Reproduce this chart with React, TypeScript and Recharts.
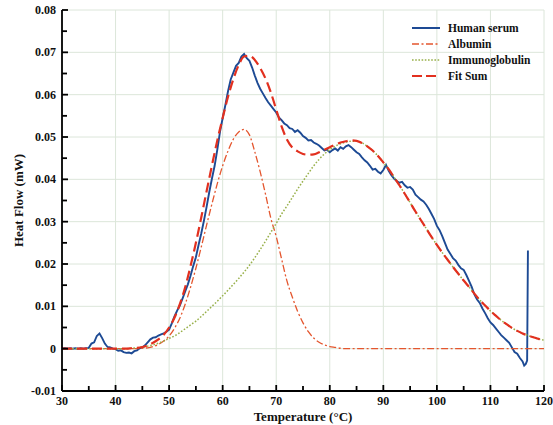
import React from 'react';
import { LineChart, Line, XAxis, YAxis, CartesianGrid, Legend } from 'recharts';

const FONT = '"Liberation Serif", "Times New Roman", serif';

// ---- axis ticks ----
const xMajorTicks = [30, 40, 50, 60, 70, 80, 90, 100, 110, 120];
const xMinorTicks = [35, 45, 55, 65, 75, 85, 95, 105, 115];
const xTickLabels = ['30', '40', '50', '60', '70', '80', '90', '100', '110', '120'];
const yMajorTicks = [-0.01, 0, 0.01, 0.02, 0.03, 0.04, 0.05, 0.06, 0.07, 0.08];
const yMinorTicks = [-0.005, 0.005, 0.015, 0.025, 0.035, 0.045, 0.055, 0.065, 0.075];
const yTickLabels = ['-0.01', '0', '0.01', '0.02', '0.03', '0.04', '0.05', '0.06', '0.07', '0.08'];
const X_DOMAIN: [number, number] = [30, 120];
const Y_DOMAIN: [number, number] = [-0.01, 0.08];

// ---- series names ----
const seriesNames = ['Human serum', 'Albumin', 'Immunoglobulin', 'Fit Sum'];

// ---- Human serum (measured) ----
const serumTemps = [
  30, 30.5, 31, 31.5, 32, 32.5, 33, 33.5, 34, 34.5,
  35, 35.5, 36, 36.5, 37, 37.5, 38, 38.5, 39, 39.5,
  40, 40.5, 41, 41.5, 42, 42.5, 43, 43.5, 44, 44.5,
  45, 45.5, 46, 46.5, 47, 47.5, 48, 48.5, 49, 49.5,
  50, 50.5, 51, 51.5, 52, 52.5, 53, 53.5, 54, 54.5,
  55, 55.5, 56, 56.5, 57, 57.5, 58, 58.5, 59, 59.5,
  60, 60.5, 61, 61.5, 62, 62.5, 63, 63.5, 64, 64.5,
  65, 65.5, 66, 66.5, 67, 67.5, 68, 68.5, 69, 69.5,
  70, 70.5, 71, 71.5, 72, 72.5, 73, 73.5, 74, 74.5,
  75, 75.5, 76, 76.5, 77, 77.5, 78, 78.5, 79, 79.5,
  80, 80.5, 81, 81.5, 82, 82.5, 83, 83.5, 84, 84.5,
  85, 85.5, 86, 86.5, 87, 87.5, 88, 88.5, 89, 89.5,
  90, 90.5, 91, 91.5, 92, 92.5, 93, 93.5, 94, 94.5,
  95, 95.5, 96, 96.5, 97, 97.5, 98, 98.5, 99, 99.5,
  100, 100.5, 101, 101.5, 102, 102.5, 103, 103.5, 104, 104.5,
  105, 105.5, 106, 106.5, 107, 107.5, 108, 108.5, 109, 109.5,
  110, 110.5, 111, 111.5, 112, 112.5, 113, 113.5, 114, 114.5,
  115, 115.5, 116, 116.3, 116.6, 116.85, 117.0,
];
const serumValues = [
  0.0000, 0.0001, 0.0000, 0.0001, 0.0000, 0.0001, 0.0000, 0.0001, 0.0000, 0.0001,
  0.0002, 0.0012, 0.0015, 0.0030, 0.0036, 0.0025, 0.0012, 0.0004, 0.0003, 0.0000,
  -0.0001, -0.0005, -0.0004, -0.0008, -0.0010, -0.0009, -0.0011, -0.0006, -0.0004, 0.0001,
  0.0003, 0.0008, 0.0015, 0.0022, 0.0026, 0.0027, 0.0031, 0.0034, 0.0036, 0.0040,
  0.0045, 0.0060, 0.0076, 0.0090, 0.0102, 0.0118, 0.0135, 0.0152, 0.0172, 0.0195,
  0.0216, 0.0245, 0.0272, 0.0302, 0.0335, 0.0370, 0.0402, 0.0432, 0.0470, 0.0512,
  0.0545, 0.0575, 0.0608, 0.0636, 0.0652, 0.0668, 0.0675, 0.0690, 0.0696, 0.0686,
  0.0680, 0.0664, 0.0645, 0.0628, 0.0614, 0.0603, 0.0592, 0.0582, 0.0574, 0.0566,
  0.0558, 0.0546, 0.0540, 0.0532, 0.0528, 0.0521, 0.0519, 0.0512, 0.0516, 0.0510,
  0.0502, 0.0498, 0.0492, 0.0493, 0.0487, 0.0484, 0.0480, 0.0474, 0.0468, 0.0470,
  0.0464, 0.0469, 0.0473, 0.0468, 0.0476, 0.0472, 0.0478, 0.0481, 0.0476, 0.0470,
  0.0464, 0.0460, 0.0452, 0.0445, 0.0440, 0.0432, 0.0423, 0.0425, 0.0418, 0.0414,
  0.0422, 0.0434, 0.0420, 0.0410, 0.0402, 0.0396, 0.0392, 0.0394, 0.0386, 0.0380,
  0.0382, 0.0376, 0.0364, 0.0358, 0.0352, 0.0348, 0.0340, 0.0330, 0.0318, 0.0306,
  0.0290, 0.0280, 0.0266, 0.0250, 0.0234, 0.0224, 0.0214, 0.0208, 0.0198, 0.0190,
  0.0186, 0.0174, 0.0160, 0.0146, 0.0128, 0.0116, 0.0108, 0.0095, 0.0084, 0.0072,
  0.0062, 0.0056, 0.0048, 0.0040, 0.0032, 0.0026, 0.0020, 0.0014, 0.0003, -0.0008,
  -0.0012, -0.0022, -0.0030, -0.0040, -0.0036, -0.0028, 0.0232,
];

// ---- Fitted components (1 °C grid) ----
const fitTemps = [
  30, 31, 32, 33, 34, 35, 36, 37, 38, 39,
  40, 41, 42, 43, 44, 45, 46, 47, 48, 49,
  50, 51, 52, 53, 54, 55, 56, 57, 58, 59,
  60, 61, 62, 63, 64, 65, 66, 67, 68, 69,
  70, 71, 72, 73, 74, 75, 76, 77, 78, 79,
  80, 81, 82, 83, 84, 85, 86, 87, 88, 89,
  90, 91, 92, 93, 94, 95, 96, 97, 98, 99,
  100, 101, 102, 103, 104, 105, 106, 107, 108, 109,
  110, 111, 112, 113, 114, 115, 116, 117, 118, 119, 120,
];
const albuminValues = [
  0, 0, 0, 0, 0, 0, 0, 0, 0, 0,
  0, 0, 0, 0, 0, 0.0001, 0.0002, 0.0005, 0.0010, 0.0018,
  0.0030, 0.0048, 0.0072, 0.0105, 0.0145, 0.0190, 0.0240, 0.0292, 0.0342, 0.0390,
  0.0432, 0.0467, 0.0495, 0.0512, 0.0518, 0.0505, 0.0465, 0.0418, 0.0365, 0.0308,
  0.0265, 0.0212, 0.0160, 0.0122, 0.0088, 0.0061, 0.0040, 0.0025, 0.0015, 0.0009,
  0.0005, 0.0003, 0.0001, 0, 0, 0, 0, 0, 0, 0,
  0, 0, 0, 0, 0, 0, 0, 0, 0, 0,
  0, 0, 0, 0, 0, 0, 0, 0, 0, 0,
  0, 0, 0, 0, 0, 0, 0, 0, 0, 0, 0,
];
const immunoValues = [
  0, 0, 0, 0, 0, 0, 0, 0, 0, 0,
  0, 0, 0, 0.0001, 0.0002, 0.0004, 0.0006, 0.0009, 0.0013, 0.0018,
  0.0024, 0.0030, 0.0038, 0.0047, 0.0056, 0.0065, 0.0076, 0.0088, 0.0100, 0.0112,
  0.0125, 0.0138, 0.0152, 0.0166, 0.0181, 0.0197, 0.0215, 0.0234, 0.0254, 0.0275,
  0.0296, 0.0318, 0.0337, 0.0357, 0.0377, 0.0396, 0.0414, 0.0432, 0.0447, 0.0460,
  0.0470, 0.0478, 0.0484, 0.0488, 0.0490, 0.0490, 0.0486, 0.0478, 0.0468, 0.0455,
  0.0440, 0.0424, 0.0405, 0.0386, 0.0366, 0.0345, 0.0324, 0.0304, 0.0284, 0.0264,
  0.0245, 0.0227, 0.0210, 0.0193, 0.0177, 0.0161, 0.0146, 0.0130, 0.0115, 0.0102,
  0.0089, 0.0078, 0.0067, 0.0058, 0.0049, 0.0042, 0.0036, 0.0031, 0.0027, 0.0023, 0.0020,
];
const fitSumValues = [
  0, 0, 0, 0, 0, 0, 0, 0, 0, 0,
  0, 0, 0, 0.0001, 0.0002, 0.0004, 0.0008, 0.0014, 0.0022, 0.0033,
  0.0050, 0.0073, 0.0105, 0.0145, 0.0195, 0.0250, 0.0310, 0.0372, 0.0433, 0.0492,
  0.0545, 0.0595, 0.0637, 0.0670, 0.0690, 0.0692, 0.0682, 0.0663, 0.0638, 0.0605,
  0.0565, 0.0525, 0.0494, 0.0475, 0.0466, 0.0460, 0.0458, 0.0459, 0.0464, 0.0470,
  0.0476, 0.0482, 0.0487, 0.0490, 0.0492, 0.0491, 0.0486, 0.0478, 0.0468, 0.0455,
  0.0440, 0.0424, 0.0405, 0.0386, 0.0366, 0.0345, 0.0324, 0.0304, 0.0284, 0.0264,
  0.0245, 0.0227, 0.0210, 0.0193, 0.0177, 0.0161, 0.0146, 0.0130, 0.0115, 0.0102,
  0.0089, 0.0078, 0.0067, 0.0058, 0.0049, 0.0042, 0.0036, 0.0031, 0.0027, 0.0023, 0.0020,
];

// ---- styles ----
const COLORS = {
  serum: '#1d4a94',
  albumin: '#e4562e',
  immuno: '#98b04a',
  fit: '#e2301f',
};
const legendStyles = [
  { color: COLORS.serum, dash: undefined, width: 2 },
  { color: COLORS.albumin, dash: '7 2.5 2 2.5', width: 1.4 },
  { color: COLORS.immuno, dash: '1.6 1.6', width: 1.4 },
  { color: COLORS.fit, dash: '10 4', width: 2.2 },
];

const serumData = serumTemps.map((t, i) => ({ t, v: serumValues[i] }));
const fitData = fitTemps.map((t, i) => ({
  t,
  albumin: albuminValues[i],
  immuno: immunoValues[i],
  fit: fitSumValues[i],
}));

const near = (a: number, b: number) => Math.abs(a - b) < 1e-9;

// inward tick marks + labels (x, y are the axis-line position because tickSize/tickMargin = 0)
const XTick = (props: any) => {
  const { x, y, payload } = props;
  const idx = xMajorTicks.findIndex((v) => near(v, payload.value));
  const major = idx >= 0;
  return (
    <g>
      <line x1={x} x2={x} y1={y} y2={y - (major ? 6 : 5)} stroke="#000" strokeWidth={1.8} />
      {major && (
        <text x={x} y={y + 14} textAnchor="middle" fontFamily={FONT} fontWeight="bold" fontSize={12} fill="#111">
          {xTickLabels[idx]}
        </text>
      )}
    </g>
  );
};

const YTick = (props: any) => {
  const { x, y, payload } = props;
  const idx = yMajorTicks.findIndex((v) => near(v, payload.value));
  const major = idx >= 0;
  return (
    <g>
      <line x1={x} x2={x + (major ? 6 : 5)} y1={y} y2={y} stroke="#000" strokeWidth={1.8} />
      {major && (
        <text x={x - 6} y={y + 4} textAnchor="end" fontFamily={FONT} fontWeight="bold" fontSize={12} fill="#111">
          {yTickLabels[idx]}
        </text>
      )}
    </g>
  );
};

const renderLegend = () => (
  <div style={{ fontFamily: FONT, fontWeight: 'bold', fontSize: 11.5, color: '#111' }}>
    {seriesNames.map((name, i) => (
      <div key={name} style={{ display: 'flex', alignItems: 'center', height: 16 }}>
        <svg width={30} height={10} style={{ display: 'block' }}>
          <line
            x1={1}
            x2={29}
            y1={5}
            y2={5}
            stroke={legendStyles[i].color}
            strokeWidth={legendStyles[i].width}
            strokeDasharray={legendStyles[i].dash}
          />
        </svg>
        <span style={{ marginLeft: 7, lineHeight: '16px' }}>{name}</span>
      </div>
    ))}
  </div>
);

export default function App() {
  const allX = [...xMajorTicks, ...xMinorTicks].sort((a, b) => a - b);
  const allY = [...yMajorTicks, ...yMinorTicks].sort((a, b) => a - b);
  return (
    <div style={{ position: 'absolute', left: 0, top: 0, background: '#fff' }}>
      <LineChart width={553} height={425} margin={{ top: 10, right: 9, left: 0, bottom: 0 }}>
        <CartesianGrid
          stroke="#dce6da"
          strokeWidth={1}
          verticalValues={xMajorTicks}
          horizontalValues={yMajorTicks}
        />
        <XAxis
          dataKey="t"
          type="number"
          domain={X_DOMAIN}
          ticks={allX}
          interval={0}
          allowDataOverflow
          height={34}
          tickSize={0}
          tickMargin={0}
          tickLine={false}
          tick={<XTick />}
          axisLine={{ stroke: '#000', strokeWidth: 1.8 }}
          label={{
            content: (p: any) => {
              const vb = p.viewBox;
              return (
                <text
                  x={vb.x + vb.width / 2}
                  y={vb.y + 30}
                  textAnchor="middle"
                  fontFamily={FONT}
                  fontWeight="bold"
                  fontSize={13}
                  fill="#111"
                >
                  Temperature (°C)
                </text>
              );
            },
          }}
        />
        <XAxis
          xAxisId="top"
          orientation="top"
          dataKey="t"
          type="number"
          domain={X_DOMAIN}
          height={0}
          tick={false}
          tickLine={false}
          axisLine={{ stroke: '#000', strokeWidth: 1.8 }}
        />
        <YAxis
          type="number"
          domain={Y_DOMAIN}
          ticks={allY}
          interval={0}
          allowDataOverflow
          width={62}
          tickSize={0}
          tickMargin={0}
          tickLine={false}
          tick={<YTick />}
          axisLine={{ stroke: '#000', strokeWidth: 1.8 }}
          label={{
            content: (p: any) => {
              const vb = p.viewBox;
              const cx = vb.x + 18;
              const cy = vb.y + vb.height / 2;
              return (
                <text
                  x={cx}
                  y={cy}
                  transform={`rotate(-90 ${cx} ${cy})`}
                  textAnchor="middle"
                  dominantBaseline="central"
                  fontFamily={FONT}
                  fontWeight="bold"
                  fontSize={13}
                  fill="#111"
                >
                  Heat Flow (mW)
                </text>
              );
            },
          }}
        />
        <YAxis
          yAxisId="right"
          orientation="right"
          type="number"
          domain={Y_DOMAIN}
          width={0}
          tick={false}
          tickLine={false}
          axisLine={{ stroke: '#000', strokeWidth: 1.8 }}
        />
        <Legend
          layout="vertical"
          verticalAlign="middle"
          align="center"
          content={renderLegend}
          wrapperStyle={{ top: 20, left: 411, width: 140, height: 66 }}
        />
        <Line
          name={seriesNames[0]}
          data={serumData}
          dataKey="v"
          type="linear"
          stroke={COLORS.serum}
          strokeWidth={1.9}
          dot={false}
          activeDot={false}
          isAnimationActive={false}
        />
        <Line
          name={seriesNames[1]}
          data={fitData}
          dataKey="albumin"
          type="monotone"
          stroke={COLORS.albumin}
          strokeWidth={1.3}
          strokeDasharray="7 2.5 2 2.5"
          dot={false}
          activeDot={false}
          isAnimationActive={false}
        />
        <Line
          name={seriesNames[2]}
          data={fitData}
          dataKey="immuno"
          type="monotone"
          stroke={COLORS.immuno}
          strokeWidth={1.5}
          strokeDasharray="1.6 1.8"
          dot={false}
          activeDot={false}
          isAnimationActive={false}
        />
        <Line
          name={seriesNames[3]}
          data={fitData}
          dataKey="fit"
          type="monotone"
          stroke={COLORS.fit}
          strokeWidth={2.2}
          strokeDasharray="10 5"
          dot={false}
          activeDot={false}
          isAnimationActive={false}
        />
      </LineChart>
    </div>
  );
}
